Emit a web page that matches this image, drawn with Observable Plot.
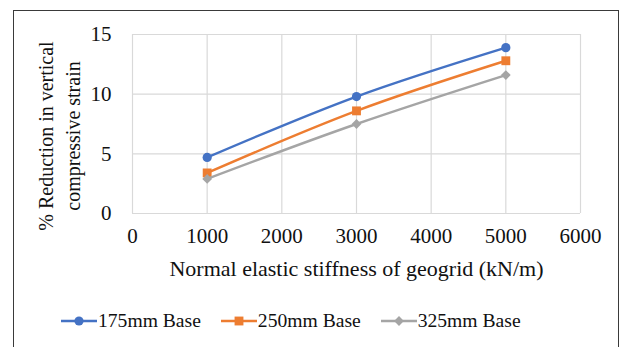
<!DOCTYPE html>
<html>
<head>
<meta charset="utf-8">
<script src="https://cdn.jsdelivr.net/npm/d3@7"></script>
<script src="https://cdn.jsdelivr.net/npm/@observablehq/plot@0.6"></script>
</head>
<body style="margin:0;padding:0;background:#fff">
<div id="wrap">
  <div id="border"></div>
  <div id="chart"></div>
  <div id="ylabel"></div>
  <div id="legend"></div>
</div>
<script>
const stiffness = [1000, 3000, 5000];
const series = ["175mm Base", "250mm Base", "325mm Base"];
const base175 = [4.7, 9.8, 13.9];
const base250 = [3.4, 8.6, 12.8];
const base325 = [2.9, 7.5, 11.6];
const colors = ["#4472C4", "#ED7D31", "#A5A5A5"];
const symbols = ["circle", "square", "diamond2"];
const radii = [4.6, 5.0, 4.4];
const xTicks = [0, 1000, 2000, 3000, 4000, 5000, 6000];
const yTicks = [0, 5, 10, 15];
const xLabel = "Normal elastic stiffness of geogrid (kN/m)";
const yLabelLines = ["% Reduction in vertical", "compressive strain"];

const FONT = "'Liberation Serif', serif";

function css(el, obj) { Object.assign(el.style, obj); return el; }
css(document.getElementById("wrap"), {position: "relative", width: "621px", height: "347px", overflow: "hidden", fontFamily: FONT, color: "#111"});
css(document.getElementById("border"), {position: "absolute", left: "13px", top: "10px", width: "606px", height: "400px", border: "1.6px solid #3a3a3a", boxSizing: "border-box"});
css(document.getElementById("chart"), {position: "absolute", left: "0px", top: "0px"});
const yl = css(document.getElementById("ylabel"), {position: "absolute", left: "60px", top: "136px", width: "260px", transform: "translate(-50%, -50%) rotate(-90deg)", textAlign: "center", fontSize: "20px", lineHeight: "27px", whiteSpace: "pre", fontFamily: FONT});
const legend = css(document.getElementById("legend"), {position: "absolute", left: "61px", top: "310px", display: "flex", alignItems: "center", fontSize: "19.6px", fontFamily: FONT});

const values = [base175, base250, base325];
const data = [];
series.forEach((s, i) => stiffness.forEach((x, j) => data.push({series: s, x, y: values[i][j]})));

const marks = [
  Plot.gridX(xTicks, {stroke: "#d9d9d9", strokeOpacity: 1, strokeWidth: 1.2}),
  Plot.gridY(yTicks, {stroke: "#d9d9d9", strokeOpacity: 1, strokeWidth: 1.2}),
  Plot.axisX(xTicks, {tickSize: 0, tickPadding: 15, fontSize: 21, label: null, fill: "#111", tickFormat: d3.format("d")}),
  Plot.axisY(yTicks, {tickSize: 0, tickPadding: 21, fontSize: 21, label: null, fill: "#111", tickFormat: d3.format("d")}),
  Plot.text([xLabel], {frameAnchor: "bottom", dy: 55, fontSize: 22, fill: "#111", lineAnchor: "middle"})
];
series.forEach((s, i) => {
  const d = data.filter(r => r.series === s);
  marks.push(Plot.line(d, {x: "x", y: "y", stroke: colors[i], strokeWidth: 2.4, curve: "catmull-rom"}));
  marks.push(Plot.dot(d, {x: "x", y: "y", fill: colors[i], stroke: null, symbol: () => symbols[i], r: radii[i]}));
});

const chart = Plot.plot({
  width: 621,
  height: 300,
  marginLeft: 132,
  marginRight: 41,
  marginTop: 34,
  marginBottom: 87,
  style: {background: "transparent", overflow: "visible"},
  x: {domain: [0, 6000]},
  y: {domain: [0, 15]},
  marks
});
chart.setAttribute("font-family", FONT);
chart.style.fontFamily = FONT;
d3.select(chart).selectAll("g, text").attr("font-family", FONT).style("font-family", FONT);
document.getElementById("chart").appendChild(chart);
yl.textContent = yLabelLines.join("\n");

series.forEach((s, i) => {
  const item = css(document.createElement("div"), {display: "flex", alignItems: "center", marginRight: "20px"});
  const sw = d3.create("svg").attr("width", 36).attr("height", 14).style("margin-right", "1px");
  sw.append("line").attr("x1", 0).attr("x2", 36).attr("y1", 7).attr("y2", 7).attr("stroke", colors[i]).attr("stroke-width", 2.4);
  const sym = {circle: d3.symbolCircle, square: d3.symbolSquare, diamond2: d3.symbolDiamond2}[symbols[i]];
  sw.append("path").attr("d", d3.symbol(sym, Math.PI * radii[i] * radii[i])()).attr("transform", "translate(18,7)").attr("fill", colors[i]);
  item.appendChild(sw.node());
  const t = css(document.createElement("span"), {fontFamily: FONT});
  t.textContent = s;
  item.appendChild(t);
  legend.appendChild(item);
});
</script>
</body>
</html>
